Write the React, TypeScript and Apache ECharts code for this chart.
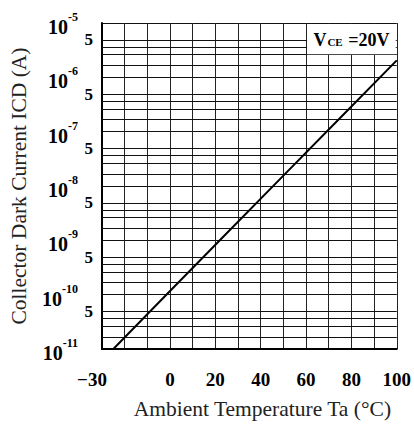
import React, { useEffect, useRef } from 'react';
import * as echarts from 'echarts';

// Characteristic curve: Collector dark current vs ambient temperature
const temperatures = [-25, 0, 25, 50, 75, 100];
const darkCurrents = [1.0e-11, 1.17e-10, 1.35e-9, 1.55e-8, 1.78e-7, 2.05e-6];

// Axis ticks
const xTickLabels = [-30, 0, 20, 40, 60, 80, 100];
const decadeExponents = [-11, -10, -9, -8, -7, -6];
const minorGridFactors = [1.65, 2.61, 3.65, 4.88];
const labelledFactor = 4.88;
const labelledFactorText = '5';
const conditionParts = ['V', 'CE', ' =20V'];

const tickFont = '"Liberation Serif", "Times New Roman", serif';
const titleFont = '"Liberation Serif", "Times New Roman", serif';

export default function App() {
  const ref = useRef<HTMLDivElement>(null);

  useEffect(() => {
    document.body.style.margin = '0';
    if (!ref.current) return;
    const chart = echarts.init(ref.current, undefined, { renderer: 'svg' });

    const minorLines: any[] = [];
    decadeExponents.forEach((n) => {
      minorGridFactors.forEach((f) => {
        const isLabelled = f === labelledFactor;
        minorLines.push({
          yAxis: n + Math.log10(f),
          label: isLabelled
            ? {
                show: true,
                position: 'start',
                formatter: labelledFactorText,
                distance: 9,
                color: '#000',
                fontFamily: tickFont,
                fontWeight: 'bold',
                fontSize: 17,
              }
            : { show: false },
        });
      });
    });

    const option: any = {
      animation: false,
      backgroundColor: '#fff',
      grid: { left: 102, right: 15, top: 23, bottom: 71, containLabel: false },
      xAxis: {
        type: 'value',
        min: -30,
        max: 100,
        interval: 10,
        name: 'Ambient Temperature Ta (°C)',
        nameLocation: 'middle',
        nameGap: 49,
        nameTextStyle: {
          fontFamily: titleFont,
          fontSize: 21.5,
          color: '#222',
          padding: [0, 0, 0, 26],
        },
        axisLine: { show: true, onZero: false, lineStyle: { color: '#000', width: 2 } },
        axisTick: { show: false },
        splitLine: { show: true, lineStyle: { color: '#222', width: 1 } },
        axisLabel: {
          margin: 21,
          color: '#000',
          fontFamily: tickFont,
          fontWeight: 'bold',
          fontSize: 19,
          formatter: (v: number) => {
            if (!xTickLabels.includes(v)) return '';
            if (v < 0) return '{m|−' + Math.abs(v) + '}';
            return String(v);
          },
          rich: {
            m: {
              fontFamily: tickFont,
              fontWeight: 'bold',
              fontSize: 19,
              color: '#000',
              padding: [0, 20, 0, 0],
            },
          },
        },
      },
      yAxis: {
        type: 'value',
        min: -11,
        max: -5,
        interval: 1,
        name: 'Collector Dark Current ICD (A)',
        nameLocation: 'middle',
        nameGap: 72,
        nameTextStyle: {
          fontFamily: titleFont,
          fontSize: 21.5,
          color: '#222',
        },
        axisLine: { show: true, onZero: false, lineStyle: { color: '#000', width: 2 } },
        axisTick: { show: false },
        splitLine: { show: true, lineStyle: { color: '#111', width: 1 } },
        axisLabel: {
          margin: 24,
          formatter: (v: number) => '{b|10}{s|' + String(v) + '}',
          rich: {
            b: {
              fontFamily: tickFont,
              fontWeight: 'bold',
              fontSize: 20,
              lineHeight: 20,
              color: '#000',
              padding: [8, 0, 0, 0],
            },
            s: {
              fontFamily: tickFont,
              fontWeight: 'bold',
              fontSize: 12,
              lineHeight: 12,
              color: '#000',
              padding: [0, 0, 12, 0],
            },
          },
        },
      },
      series: [
        {
          type: 'line',
          data: temperatures.map((t, i) => [t, Math.log10(darkCurrents[i])]),
          symbol: 'none',
          lineStyle: { color: '#000', width: 2 },
          z: 5,
          markLine: {
            silent: true,
            symbol: ['none', 'none'],
            lineStyle: { type: 'solid', color: '#111', width: 1 },
            data: minorLines,
            z: 1,
          },
        },
      ],
    };
    chart.setOption(option);

    const p1 = chart.convertToPixel({ gridIndex: 0 }, [60, -5]) as number[];
    const p2 = chart.convertToPixel({ gridIndex: 0 }, [100, -6 + Math.log10(minorGridFactors[1])]) as number[];
    chart.setOption({
      graphic: [
        {
          type: 'group',
          z: 100,
          children: [
            {
              type: 'rect',
              z: 100,
              shape: { x: p1[0] + 1, y: p1[1] + 1, width: p2[0] - p1[0] - 2, height: p2[1] - p1[1] - 1.5 },
              style: { fill: '#fff' },
            },
            {
              type: 'text',
              z: 101,
              x: (p1[0] + p2[0]) / 2,
              y: (p1[1] + p2[1]) / 2 + 1,
              style: {
                text: '{a|' + conditionParts[0] + '}{c|' + conditionParts[1] + '}{a|' + conditionParts[2] + '}',
                align: 'center',
                verticalAlign: 'middle',
                rich: {
                  a: { fontFamily: tickFont, fontWeight: 'bold', fontSize: 18, fill: '#000' },
                  c: { fontFamily: tickFont, fontWeight: 'bold', fontSize: 11, fill: '#000', padding: [4, 1, 0, 1] },
                },
              },
            },
          ],
        },
      ],
    });

    return () => chart.dispose();
  }, []);

  return <div ref={ref} style={{ width: 414, height: 425 }} />;
}
